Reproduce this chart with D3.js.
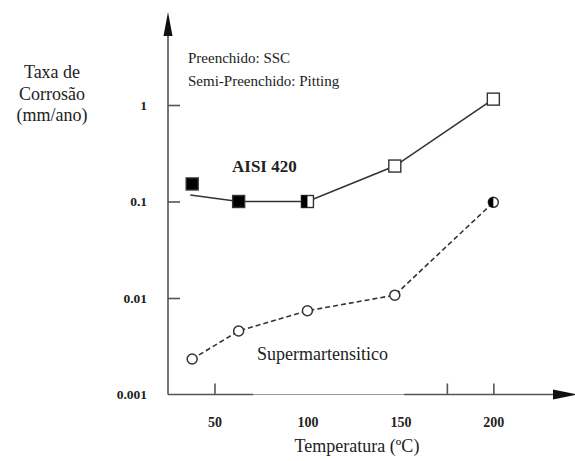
<!DOCTYPE html>
<html lang="pt">
<head>
<meta charset="utf-8">
<title>Taxa de Corrosão x Temperatura</title>
<script src="https://cdn.jsdelivr.net/npm/d3@7"></script>
<style>
  body { margin: 0; background: #fff; }
</style>
</head>
<body>
<script>
// temperatures (ºC) of the measurements
var temps = [38, 63, 100, 147, 200];
// AISI 420 markers
var aisiValues = [0.152, 0.1, 0.1, 0.233, 1.15];
var aisiFill = ["full", "full", "half", "open", "open"];
// AISI 420 trend line (starts below first marker)
var aisiLineT = [37, 63, 100, 147, 200];
var aisiLineV = [0.117, 0.1, 0.1, 0.233, 1.15];
// Supermartensitico
var superValues = [0.00233, 0.00455, 0.00738, 0.0107, 0.098];
var superFill = ["open", "open", "open", "open", "half"];

var yTicks = [1, 0.1, 0.01, 0.001];
var yTickLabels = ["1", "0.1", "0.01", "0.001"];
var xTickLabels = [50, 100, 150, 200];
var xTickMarks = [50, 175, 200];

var serif = "Liberation Serif";
var w = 575, h = 461;
var svg = d3.select("body").append("svg")
    .attr("width", w)
    .attr("height", h)
    .attr("font-family", serif);

var xScale = d3.scaleLinear().domain([25, 245]).range([168, 577]);
var yScale = d3.scaleLog().domain([0.001, 1]).range([394.5, 105]);
var x0 = xScale(25), y0 = yScale(0.001);

// axes lines + arrows
svg.append("line").attr("x1", x0).attr("y1", y0).attr("x2", x0).attr("y2", 28)
    .attr("stroke", "#555").attr("stroke-width", 1.6);
svg.append("path").attr("d", "M" + x0 + ",12 L" + (x0 - 4.5) + ",36 L" + (x0 + 4.5) + ",36 Z")
    .attr("fill", "#111");
svg.append("line").attr("x1", x0).attr("y1", y0).attr("x2", xScale(71)).attr("y2", y0)
    .attr("stroke", "#555").attr("stroke-width", 1.6);
svg.append("line").attr("x1", xScale(71)).attr("y1", y0).attr("x2", xScale(152)).attr("y2", y0)
    .attr("stroke", "#999").attr("stroke-width", 1);
svg.append("line").attr("x1", xScale(152)).attr("y1", y0).attr("x2", 560).attr("y2", y0)
    .attr("stroke", "#555").attr("stroke-width", 1.6);
svg.append("path").attr("d", "M577," + y0 + " L553," + (y0 - 5) + " L553," + (y0 + 5) + " Z")
    .attr("fill", "#111");

// y axis ticks (inward) and labels
var yAxis = d3.axisLeft(yScale)
    .tickValues(yTicks)
    .tickFormat(function(d, i) { return yTickLabels[i]; })
    .tickSizeInner(-12)
    .tickSizeOuter(0)
    .tickPadding(21);
var gy = svg.append("g").attr("transform", "translate(" + x0 + ",0)").call(yAxis)
    .attr("font-family", serif);
gy.select(".domain").remove();
gy.selectAll(".tick line").attr("stroke", "#555").attr("stroke-width", 1.6);
gy.selectAll(".tick text").attr("font-size", 13.5).attr("font-weight", "bold").attr("fill", "#222");
gy.selectAll(".tick").filter(function(d) { return d === 0.001; }).select("line").remove();

// x axis tick marks (inward)
var xAxisMarks = d3.axisTop(xScale).tickValues(xTickMarks).tickFormat("").tickSizeOuter(0).tickSizeInner(11);
var gx = svg.append("g").attr("transform", "translate(0," + y0 + ")").call(xAxisMarks);
gx.select(".domain").remove();
gx.selectAll(".tick line").attr("stroke", "#555").attr("stroke-width", 1.6);

// x axis labels
var xAxisLabels = d3.axisBottom(xScale).tickValues(xTickLabels).tickSize(0).tickPadding(23);
var gl = svg.append("g").attr("transform", "translate(0," + y0 + ")").call(xAxisLabels)
    .attr("font-family", serif);
gl.select(".domain").remove();
gl.selectAll(".tick text").attr("font-size", 14).attr("font-weight", "bold").attr("fill", "#222");

// lines
var line = d3.line().x(function(d) { return xScale(d[0]); }).y(function(d) { return yScale(d[1]); });
svg.append("path")
    .datum(d3.zip(aisiLineT, aisiLineV))
    .attr("d", line)
    .attr("fill", "none").attr("stroke", "#333").attr("stroke-width", 1.6);
svg.append("path")
    .datum(d3.zip(temps, superValues))
    .attr("d", line)
    .attr("fill", "none").attr("stroke", "#333").attr("stroke-width", 1.6)
    .attr("stroke-dasharray", "5,3");

// square markers
var sq = 12;
var squares = svg.selectAll(".sq").data(d3.zip(temps, aisiValues, aisiFill)).enter().append("g")
    .attr("transform", function(d) { return "translate(" + xScale(d[0]) + "," + yScale(d[1]) + ")"; });
squares.append("rect")
    .attr("x", -sq / 2).attr("y", -sq / 2).attr("width", sq).attr("height", sq)
    .attr("fill", function(d) { return d[2] === "full" ? "#000" : "#fff"; })
    .attr("stroke", "#333").attr("stroke-width", 1.4);
squares.filter(function(d) { return d[2] === "half"; }).append("rect")
    .attr("x", -sq / 2).attr("y", -sq / 2).attr("width", sq / 2).attr("height", sq)
    .attr("fill", "#000");

// circle markers
var r = 5;
var circles = svg.selectAll(".ci").data(d3.zip(temps, superValues, superFill)).enter().append("g")
    .attr("transform", function(d) { return "translate(" + xScale(d[0]) + "," + yScale(d[1]) + ")"; });
circles.append("circle").attr("r", r)
    .attr("fill", "#fff").attr("stroke", "#333").attr("stroke-width", 1.5);
circles.filter(function(d) { return d[2] === "half"; }).append("path")
    .attr("d", "M0," + (-r) + " A" + r + "," + r + " 0 0,0 0," + r + " Z")
    .attr("fill", "#000");

// texts
function label(x, y, size, str) {
    return svg.append("text").attr("x", x).attr("y", y)
        .attr("font-family", serif).attr("font-size", size).attr("fill", "#222").text(str);
}
var yt = svg.append("text").attr("text-anchor", "middle").attr("font-size", 18)
    .attr("font-family", serif).attr("fill", "#222");
yt.append("tspan").attr("x", 52).attr("y", 78).text("Taxa de");
yt.append("tspan").attr("x", 52).attr("y", 100).text("Corrosão");
yt.append("tspan").attr("x", 52).attr("y", 121).text("(mm/ano)");

label(188, 63, 15, "Preenchido: SSC");
label(188, 86, 15, "Semi-Preenchido: Pitting");
label(232, 172, 17, "AISI 420").attr("font-weight", "bold");
label(257, 360, 18, "Supermartensitico");
label(357, 452, 18, "Temperatura (ºC)").attr("text-anchor", "middle");
</script>
</body>
</html>
